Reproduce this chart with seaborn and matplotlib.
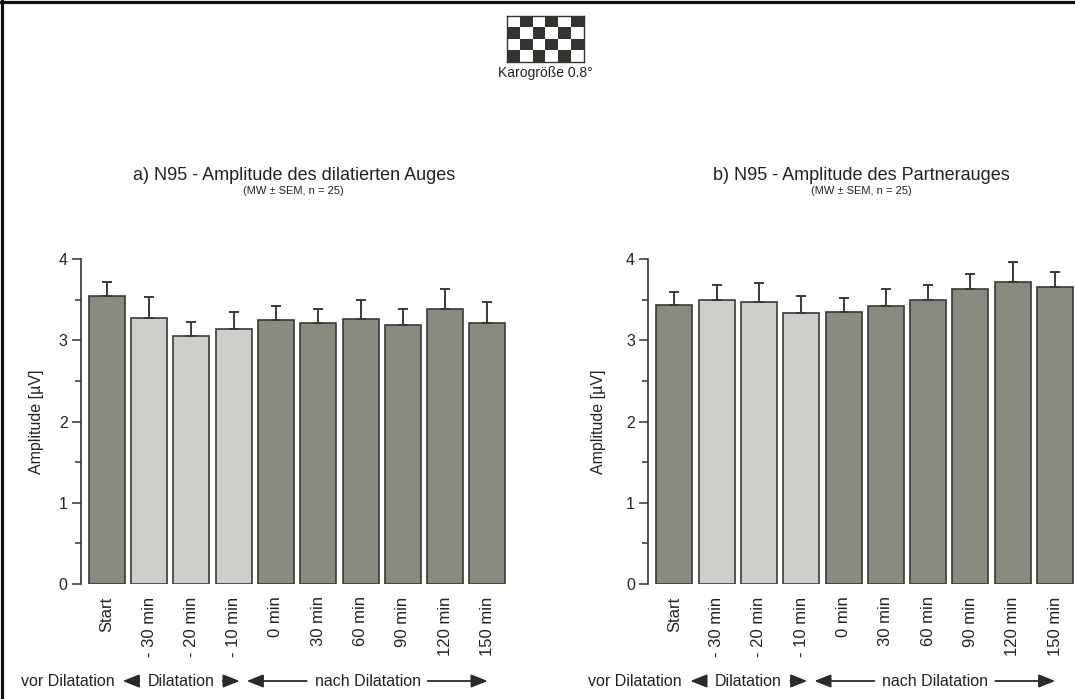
import numpy as np
import pandas as pd
import matplotlib
matplotlib.use("Agg")
import matplotlib.pyplot as plt
import seaborn as sns
from matplotlib.ticker import MultipleLocator

sns.set_theme(style="white")
plt.rcParams['font.family'] = ['Liberation Sans', 'DejaVu Sans']

# ---------------- data ----------------
categories = ["Start", "- 30 min", "- 20 min", "- 10 min", "0 min",
              "30 min", "60 min", "90 min", "120 min", "150 min"]
phase = ["vor", "Dilatation", "Dilatation", "Dilatation", "nach",
         "nach", "nach", "nach", "nach", "nach"]
mean_a = [3.54, 3.28, 3.05, 3.14, 3.25, 3.21, 3.26, 3.19, 3.39, 3.21]
sem_a = [0.18, 0.25, 0.18, 0.21, 0.17, 0.18, 0.23, 0.20, 0.24, 0.26]
mean_b = [3.43, 3.50, 3.47, 3.33, 3.35, 3.42, 3.49, 3.63, 3.72, 3.65]
sem_b = [0.16, 0.18, 0.23, 0.21, 0.17, 0.21, 0.19, 0.19, 0.24, 0.19]
titles = ["a) N95 - Amplitude des dilatierten Auges",
          "b) N95 - Amplitude des Partnerauges"]
subtitle = "(MW \u00b1 SEM, n = 25)"
ylabel = "Amplitude [\u00b5V]"
yticks = [0, 1, 2, 3, 4]

dark = "#8b8b7f"
light = "#cfcfca"
edge = "#3a3a36"
palette = {"vor": dark, "Dilatation": light, "nach": dark}

W, H = 1075, 699
fig = plt.figure(figsize=(W / 100, H / 100), dpi=100)

def fx(px):
    return px / W

def fy(py):
    return 1 - py / H

ax_w = 426
ax_h = 325
spines_x = [80.7, 648.3]
ylab_x = [-0.086, -0.099]

for k, (means, sems) in enumerate([(mean_a, sem_a), (mean_b, sem_b)]):
    sx = spines_x[k]
    ax = fig.add_axes([fx(sx), fy(584), ax_w / W, ax_h / H])
    df = pd.DataFrame({"cat": categories, "val": means, "phase": phase})
    sns.barplot(data=df, x="cat", y="val", hue="phase", palette=palette,
                order=categories, dodge=False, width=0.85, errorbar=None,
                edgecolor=edge, linewidth=1.2, legend=False, ax=ax)
    xs = np.arange(len(categories))
    ax.errorbar(xs, means, yerr=[np.zeros(len(sems)), sems], fmt="none",
                ecolor="#3a3a36", elinewidth=1.4, capsize=3.5, capthick=1.4)
    ax.set_xlim(-0.615, 9.455)
    ax.set_ylim(0, 4)
    ax.set_yticks(yticks)
    ax.yaxis.set_minor_locator(MultipleLocator(0.5))
    ax.tick_params(axis="y", which="major", length=6.5, width=1.1,
                   color="#333333", labelsize=11.5, labelcolor="#222222",
                   direction="out", left=True, pad=3)
    ax.tick_params(axis="y", which="minor", length=4, width=1.1,
                   color="#333333", direction="out", left=True)
    ax.tick_params(axis="x", length=0, labelsize=12, labelcolor="#222222",
                   pad=9)
    for lab in ax.get_xticklabels():
        lab.set_rotation(90)
        lab.set_va("top")
        lab.set_ha("center")
    for s in ["top", "right", "bottom"]:
        ax.spines[s].set_visible(False)
    ax.spines["left"].set_color("#333333")
    ax.spines["left"].set_linewidth(1.2)
    ax.set_xlabel("")
    ax.set_ylabel(ylabel, fontsize=11.5, color="#222222")
    ax.yaxis.set_label_coords(ylab_x[k], 0.5)
    ax.text(0.5, (584 - 175) / ax_h, titles[k], transform=ax.transAxes,
            ha="center", va="center", fontsize=13, color="#222222")
    ax.text(0.5, (584 - 191) / ax_h, subtitle, transform=ax.transAxes,
            ha="center", va="center", fontsize=8, color="#222222")

    # bottom phase annotations
    yb = 681
    tkw = dict(ha="center", va="center", fontsize=11.5, color="#222222")
    fig.text(fx(sx - 13), fy(yb), "vor Dilatation", **tkw)
    fig.text(fx(sx + 100), fy(yb), "Dilatation", **tkw)
    fig.text(fx(sx + 287), fy(yb), "nach Dilatation", **tkw)
    akw = dict(arrowstyle="-|>,head_length=1.0,head_width=0.4",
               color="#2a2a28", lw=1.3, shrinkA=0, shrinkB=0)
    for tail, head in [(sx + 58, sx + 42), (sx + 142, sx + 159),
                       (sx + 226, sx + 166), (sx + 347, sx + 407)]:
        fig.patches.append(matplotlib.patches.FancyArrowPatch(
            (fx(tail), fy(yb)), (fx(head), fy(yb)),
            transform=fig.transFigure, mutation_scale=10, **akw))

# checkerboard stimulus icon
bx0, bx1, by0, by1 = 507, 584, 16, 62
cax = fig.add_axes([fx(bx0), fy(by1), (bx1 - bx0) / W, (by1 - by0) / H])
board = (np.indices((4, 6)).sum(axis=0) % 2)
cax.imshow(board, cmap=matplotlib.colors.ListedColormap(["white", "#333330"]),
           aspect="auto", interpolation="nearest")
cax.set_xticks([])
cax.set_yticks([])
for s in cax.spines.values():
    s.set_color("#333330")
    s.set_linewidth(1)
fig.text(fx(545), fy(73), "Karogr\u00f6\u00dfe 0.8\u00b0", ha="center",
         va="center", fontsize=10, color="#222222")

# outer frame (left and top)
fig.add_artist(plt.Line2D([fx(1.5), fx(1.5)], [0, 1], transform=fig.transFigure,
                          color="#111111", lw=2.3))
fig.add_artist(plt.Line2D([0, 1], [fy(1.5), fy(1.5)], transform=fig.transFigure,
                          color="#111111", lw=2.3))

fig.savefig("out.png", dpi=100)
